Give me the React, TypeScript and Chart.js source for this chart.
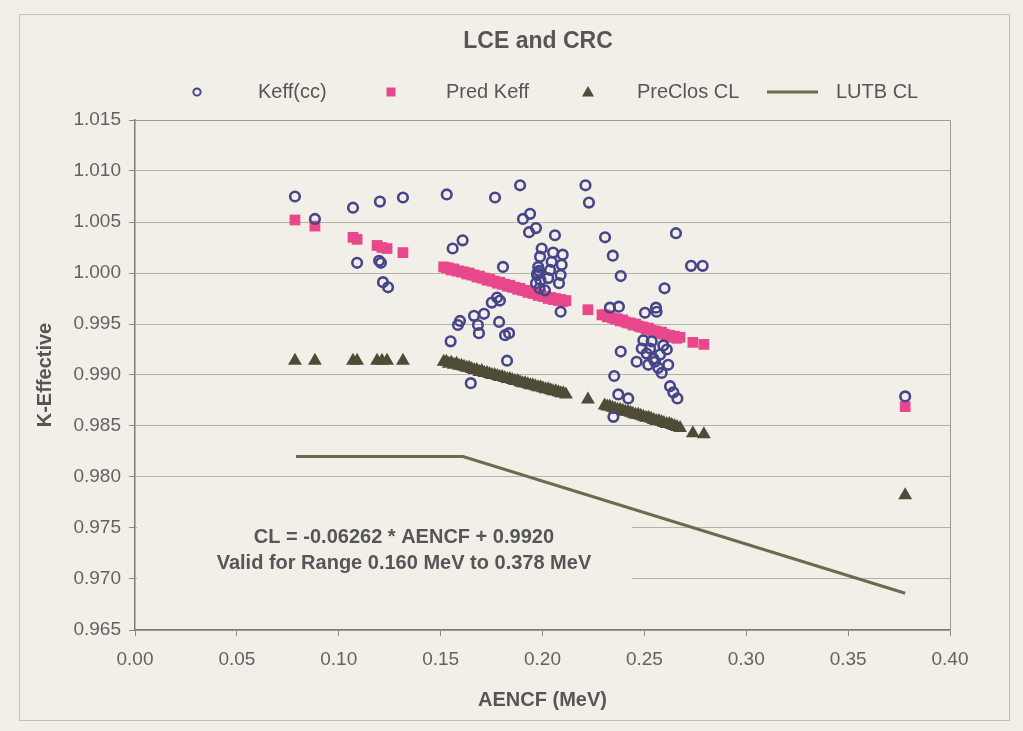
import React, { useEffect, useRef } from 'react';
import { Chart, registerables } from 'chart.js';

Chart.register(...registerables);

// ---------- DATA ----------
const chartTitle = 'LCE and CRC';
const legendLabels = ['Keff(cc)', 'Pred Keff', 'PreClos CL', 'LUTB CL'];
const xAxisTitle = 'AENCF (MeV)';
const yAxisTitle = 'K-Effective';
const noteLines = ['CL = -0.06262 * AENCF + 0.9920', 'Valid for Range 0.160 MeV to 0.378 MeV'];
const xTickStep = 0.05;
const yTickStep = 0.005;
const xRange = [0, 0.4];
const yRange = [0.965, 1.015];

// Keff(cc) – open circles
const keffX = [
  0.0785, 0.0883, 0.1070, 0.1202, 0.1315, 0.1090, 0.1198, 0.1207, 0.1217, 0.1242,
  0.1530, 0.1767, 0.1890, 0.2211, 0.2228, 0.1904, 0.1939, 0.1934, 0.1968, 0.2061,
  0.1559, 0.1608, 0.1806, 0.1996, 0.2052, 0.2099, 0.1988, 0.2045, 0.2094, 0.1979,
  0.2037, 0.2089, 0.1973, 0.2028, 0.2081, 0.2012, 0.1983, 0.1975, 0.1990, 0.1968,
  0.1985, 0.2089, 0.1777, 0.1791, 0.1751, 0.1595, 0.1585, 0.1664, 0.1713, 0.1683,
  0.1688, 0.1787, 0.1816, 0.1836, 0.1549, 0.1826, 0.1648, 0.2307, 0.2655, 0.2345,
  0.2384, 0.2729, 0.2786, 0.2599, 0.2331, 0.2375, 0.2503, 0.2557, 0.2560, 0.2495,
  0.2536, 0.2593, 0.2487, 0.2511, 0.2577, 0.2462, 0.2519, 0.2568, 0.2617, 0.2585,
  0.2544, 0.2610, 0.2528, 0.2552, 0.2384, 0.2352, 0.2372, 0.2421, 0.2626, 0.2642,
  0.2662, 0.2348, 0.3780,
];
const keffY = [
  1.0075, 1.0053, 1.0064, 1.0070, 1.0074, 1.0010, 1.0012, 1.0010, 0.9991, 0.9986,
  1.0077, 1.0074, 1.0086, 1.0086, 1.0069, 1.0053, 1.0058, 1.0040, 1.0044, 1.0037,
  1.0024, 1.0032, 1.0006, 1.0024, 1.0020, 1.0018, 1.0016, 1.0011, 1.0008, 1.0006,
  1.0003, 0.9998, 0.9998, 0.9995, 0.9990, 0.9983, 1.0002, 1.0000, 0.9993, 0.9990,
  0.9985, 0.9962, 0.9976, 0.9973, 0.9971, 0.9953, 0.9949, 0.9958, 0.9960, 0.9949,
  0.9941, 0.9952, 0.9939, 0.9941, 0.9933, 0.9914, 0.9892, 1.0035, 1.0039, 1.0017,
  0.9997, 1.0007, 1.0007, 0.9985, 0.9966, 0.9967, 0.9961, 0.9966, 0.9962, 0.9934,
  0.9933, 0.9929, 0.9926, 0.9921, 0.9920, 0.9913, 0.9910, 0.9907, 0.9910, 0.9902,
  0.9916, 0.9925, 0.9926, 0.9913, 0.9923, 0.9899, 0.9881, 0.9877, 0.9889, 0.9883,
  0.9877, 0.9859, 0.9879,
];

// Pred Keff – filled squares
const predX = [
  0.0785, 0.0883, 0.1070, 0.1090, 0.1188, 0.1212, 0.1237, 0.1315,
  0.1515, 0.1528, 0.1540, 0.1552, 0.1565, 0.1578, 0.1590, 0.1602, 0.1615, 0.1628,
  0.1640, 0.1652, 0.1665, 0.1678, 0.1690, 0.1702, 0.1715, 0.1728, 0.1740, 0.1752,
  0.1765, 0.1778, 0.1790, 0.1802, 0.1815, 0.1828, 0.1840, 0.1852, 0.1865, 0.1878,
  0.1890, 0.1902, 0.1915, 0.1928, 0.1940, 0.1952, 0.1965, 0.1978, 0.1990, 0.2002,
  0.2015, 0.2028, 0.2040, 0.2052, 0.2065, 0.2078, 0.2090, 0.2102, 0.2115,
  0.2223,
  0.2292, 0.2305, 0.2318, 0.2330, 0.2343, 0.2356, 0.2368, 0.2381, 0.2394, 0.2406,
  0.2419, 0.2432, 0.2444, 0.2457, 0.2470, 0.2482, 0.2495, 0.2508, 0.2520, 0.2533,
  0.2546, 0.2558, 0.2571, 0.2584, 0.2596, 0.2609, 0.2622, 0.2634, 0.2647, 0.2660,
  0.2675, 0.2738, 0.2792, 0.3780,
];
const predY = [
  1.0052, 1.0046, 1.0035, 1.0033, 1.0027, 1.0025, 1.0024, 1.0020,
  1.0006, 1.0005, 1.0005, 1.0003, 1.0004, 1.0002, 1.0002, 1.0001, 1.0001, 0.9999,
  1.0000, 0.9998, 0.9998, 0.9996, 0.9997, 0.9995, 0.9995, 0.9993, 0.9994, 0.9992,
  0.9992, 0.9990, 0.9991, 0.9989, 0.9989, 0.9987, 0.9988, 0.9986, 0.9986, 0.9984,
  0.9985, 0.9983, 0.9983, 0.9981, 0.9982, 0.9980, 0.9980, 0.9978, 0.9979, 0.9977,
  0.9977, 0.9975, 0.9976, 0.9974, 0.9975, 0.9973, 0.9974, 0.9972, 0.9973,
  0.9964,
  0.9959, 0.9959, 0.9957, 0.9958, 0.9956, 0.9955, 0.9955, 0.9953, 0.9954, 0.9952,
  0.9951, 0.9951, 0.9949, 0.9950, 0.9948, 0.9947, 0.9947, 0.9945, 0.9946, 0.9944,
  0.9943, 0.9943, 0.9941, 0.9942, 0.9940, 0.9939, 0.9939, 0.9937, 0.9938, 0.9936,
  0.9937, 0.9932, 0.9930, 0.9869,
];

// PreClos CL – filled triangles
const preClosX = [
  0.0785, 0.0883, 0.1070, 0.1090, 0.1188, 0.1212, 0.1237, 0.1315,
  0.1515, 0.1528, 0.1540, 0.1552, 0.1565, 0.1578, 0.1590, 0.1602, 0.1615, 0.1628,
  0.1640, 0.1652, 0.1665, 0.1678, 0.1690, 0.1702, 0.1715, 0.1728, 0.1740, 0.1752,
  0.1765, 0.1778, 0.1790, 0.1802, 0.1815, 0.1828, 0.1840, 0.1852, 0.1865, 0.1878,
  0.1890, 0.1902, 0.1915, 0.1928, 0.1940, 0.1952, 0.1965, 0.1978, 0.1990, 0.2002,
  0.2015, 0.2028, 0.2040, 0.2052, 0.2065, 0.2078, 0.2090, 0.2102, 0.2115,
  0.2223,
  0.2305, 0.2318, 0.2330, 0.2343, 0.2356, 0.2368, 0.2381, 0.2394, 0.2406,
  0.2419, 0.2432, 0.2444, 0.2457, 0.2470, 0.2482, 0.2495, 0.2508, 0.2520, 0.2533,
  0.2546, 0.2558, 0.2571, 0.2584, 0.2596, 0.2609, 0.2622, 0.2634, 0.2647, 0.2660,
  0.2675, 0.2738, 0.2792, 0.3780,
];
const preClosY = [
  0.9914, 0.9914, 0.9914, 0.9914, 0.9914, 0.9914, 0.9914, 0.9914,
  0.9913, 0.9913, 0.9911, 0.9912, 0.9910, 0.9911, 0.9909, 0.9909, 0.9908, 0.9907,
  0.9907, 0.9906, 0.9905, 0.9905, 0.9903, 0.9904, 0.9902, 0.9902, 0.9901, 0.9900,
  0.9900, 0.9899, 0.9898, 0.9898, 0.9897, 0.9896, 0.9896, 0.9895, 0.9894, 0.9894,
  0.9893, 0.9892, 0.9892, 0.9891, 0.9890, 0.9890, 0.9889, 0.9888, 0.9888, 0.9887,
  0.9886, 0.9886, 0.9885, 0.9884, 0.9884, 0.9883, 0.9882, 0.9882, 0.9881,
  0.9876,
  0.9870, 0.9869, 0.9869, 0.9868, 0.9867, 0.9866, 0.9866, 0.9865, 0.9864,
  0.9864, 0.9863, 0.9862, 0.9861, 0.9861, 0.9860, 0.9859, 0.9858, 0.9858, 0.9857,
  0.9856, 0.9855, 0.9855, 0.9854, 0.9853, 0.9852, 0.9852, 0.9851, 0.9850, 0.9849,
  0.9848, 0.9843, 0.9842, 0.9782,
];

// LUTB CL – solid line
const lutbX = [0.0790, 0.1610, 0.3780];
const lutbY = [0.9820, 0.9820, 0.9686];

// ---------- STYLE ----------
const FONT = "'Liberation Sans', Arial, sans-serif";
const BG = '#f2efe9';
const TEXT = '#565656';
const TICK_TEXT = '#626262';
const COL_KEFF = '#46458a';
const COL_PRED = '#e8488b';
const COL_PRECLOS = '#4e4c37';
const COL_LUTB = '#6d6a4e';

const toPts = (xs: number[], ys: number[]) => xs.map((x, i) => ({ x, y: ys[i] }));

const decor = {
  id: 'decor',
  beforeDraw(chart: any) {
    const { ctx, width, height } = chart;
    ctx.save();
    ctx.fillStyle = BG;
    ctx.fillRect(0, 0, width, height);
    ctx.strokeStyle = '#c4c1b8';
    ctx.lineWidth = 1;
    ctx.strokeRect(19.5, 14.5, 990, 706);
    ctx.restore();
  },
  beforeDatasetsDraw(chart: any) {
    const { ctx, chartArea } = chart;
    const xs = chart.scales.x;
    ctx.save();
    // plot frame (top / right)
    ctx.strokeStyle = '#9c9a92';
    ctx.lineWidth = 1;
    ctx.beginPath();
    ctx.moveTo(chartArea.left, chartArea.top + 0.5);
    ctx.lineTo(chartArea.right + 0.5, chartArea.top + 0.5);
    ctx.lineTo(chartArea.right + 0.5, chartArea.bottom);
    ctx.stroke();
    // annotation text box
    const cx = xs.getPixelForValue(0.132);
    ctx.fillStyle = BG;
    ctx.fillRect(chartArea.left + 2, chartArea.top + 386, 632 - chartArea.left - 2, 88);
    ctx.fillStyle = TEXT;
    ctx.font = `bold 20px ${FONT}`;
    ctx.textAlign = 'center';
    ctx.textBaseline = 'middle';
    ctx.fillText(noteLines[0], cx, chartArea.top + 417);
    ctx.fillText(noteLines[1], cx, chartArea.top + 443);
    ctx.restore();
  },
  afterDraw(chart: any) {
    const { ctx } = chart;
    ctx.save();
    // title
    ctx.fillStyle = TEXT;
    ctx.font = `bold 23px ${FONT}`;
    ctx.textAlign = 'center';
    ctx.textBaseline = 'middle';
    ctx.fillText(chartTitle, 538, 42);
    // legend
    const ly = 92;
    ctx.font = `20px ${FONT}`;
    ctx.textAlign = 'left';
    // circle
    ctx.strokeStyle = COL_KEFF;
    ctx.lineWidth = 2;
    ctx.beginPath();
    ctx.arc(197, ly, 3.6, 0, Math.PI * 2);
    ctx.stroke();
    // square
    ctx.fillStyle = COL_PRED;
    ctx.fillRect(386.5, ly - 4.5, 9, 9);
    // triangle
    ctx.fillStyle = COL_PRECLOS;
    ctx.beginPath();
    ctx.moveTo(588, ly - 6);
    ctx.lineTo(594, ly + 4.5);
    ctx.lineTo(582, ly + 4.5);
    ctx.closePath();
    ctx.fill();
    // line
    ctx.strokeStyle = COL_LUTB;
    ctx.lineWidth = 3;
    ctx.beginPath();
    ctx.moveTo(767, ly);
    ctx.lineTo(818, ly);
    ctx.stroke();
    ctx.fillStyle = TEXT;
    ctx.fillText(legendLabels[0], 258, ly);
    ctx.fillText(legendLabels[1], 446, ly);
    ctx.fillText(legendLabels[2], 637, ly);
    ctx.fillText(legendLabels[3], 836, ly);
    ctx.restore();
  },
};

export default function App() {
  const ref = useRef<HTMLCanvasElement>(null);
  useEffect(() => {
    const canvas = ref.current;
    if (!canvas) return;
    const chart = new Chart(canvas, {
      type: 'scatter',
      data: {
        datasets: [
          {
            label: legendLabels[0],
            data: toPts(keffX, keffY),
            pointStyle: 'circle',
            pointRadius: 4.8,
            pointBorderWidth: 2.6,
            pointBorderColor: COL_KEFF,
            pointBackgroundColor: 'rgba(0,0,0,0)',
            borderColor: COL_KEFF,
            backgroundColor: 'rgba(0,0,0,0)',
          },
          {
            label: legendLabels[1],
            data: toPts(predX, predY),
            pointStyle: 'rect',
            pointRadius: 7.6,
            pointBorderWidth: 0,
            pointBackgroundColor: COL_PRED,
            backgroundColor: COL_PRED,
            borderColor: COL_PRED,
          },
          {
            label: legendLabels[2],
            data: toPts(preClosX, preClosY),
            pointStyle: 'triangle',
            pointRadius: 8,
            pointBorderWidth: 0,
            pointBackgroundColor: COL_PRECLOS,
            backgroundColor: COL_PRECLOS,
            borderColor: COL_PRECLOS,
          },
          {
            label: legendLabels[3],
            data: toPts(lutbX, lutbY),
            showLine: true,
            pointRadius: 0,
            borderColor: COL_LUTB,
            borderWidth: 3,
            fill: false,
          },
        ],
      } as any,
      options: {
        responsive: false,
        maintainAspectRatio: false,
        animation: false,
        devicePixelRatio: 1,
        layout: { padding: { top: 120, right: 73, left: 0, bottom: 0 } },
        plugins: {
          legend: { display: false },
          tooltip: { enabled: false },
          title: { display: false },
        },
        scales: {
          x: {
            type: 'linear',
            min: xRange[0],
            max: xRange[1],
            ticks: {
              stepSize: xTickStep,
              autoSkip: false,
              maxRotation: 0,
              padding: 12,
              color: TICK_TEXT,
              font: { family: FONT, size: 19 },
              callback: (v: any) => Number(v).toFixed(2),
            },
            grid: { drawOnChartArea: false, drawTicks: true, tickLength: 6, tickColor: '#8c8c8c' },
            border: { color: '#7c7c7c', width: 1.5 },
            title: {
              display: true,
              text: xAxisTitle,
              color: TEXT,
              font: { family: FONT, size: 20, weight: 'bold' },
              padding: { top: 0, bottom: 19 },
            },
            afterFit: (s: any) => { s.height = 101; },
          },
          y: {
            type: 'linear',
            min: yRange[0],
            max: yRange[1],
            ticks: {
              stepSize: yTickStep,
              autoSkip: false,
              padding: 8,
              color: TICK_TEXT,
              font: { family: FONT, size: 19 },
              callback: (v: any) => Number(v).toFixed(3),
            },
            grid: { color: '#b3b1a9', lineWidth: 1, drawTicks: true, tickLength: 6, tickColor: '#8c8c8c' },
            border: { color: '#7c7c7c', width: 1.5 },
            title: {
              display: true,
              text: yAxisTitle,
              color: TEXT,
              font: { family: FONT, size: 20, weight: 'bold' },
              padding: { top: 33, bottom: 0 },
            },
            afterFit: (s: any) => { s.width = 135; },
          },
        },
      } as any,
      plugins: [decor],
    });
    return () => chart.destroy();
  }, []);

  return (
    <div style={{ position: 'fixed', left: 0, top: 0, width: 1023, height: 731, background: BG }}>
      <canvas ref={ref} width={1023} height={731} style={{ display: 'block' }} />
    </div>
  );
}
